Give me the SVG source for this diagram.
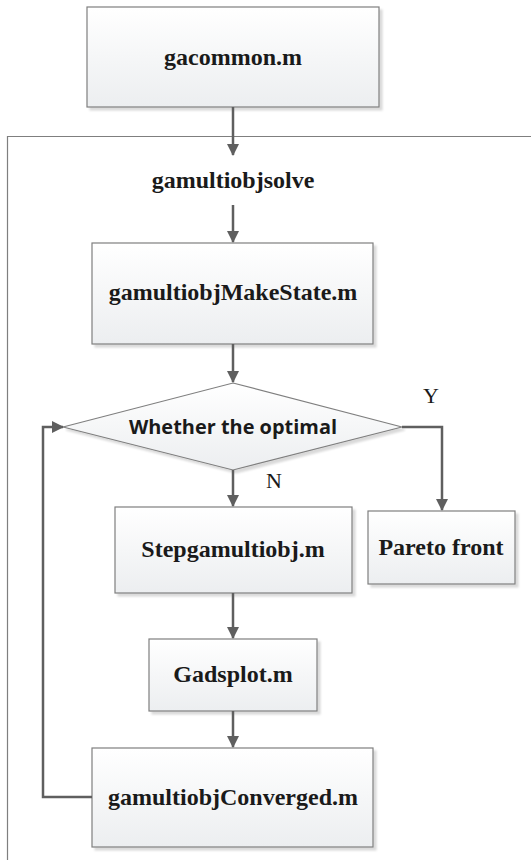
<svg xmlns="http://www.w3.org/2000/svg" width="531" height="860" viewBox="0 0 531 860">
<defs>
<linearGradient id="g" x1="0" y1="0" x2="0" y2="1">
<stop offset="0" stop-color="#ffffff"/>
<stop offset="1" stop-color="#eceef0"/>
</linearGradient>
<marker id="ah" markerWidth="12" markerHeight="12" refX="11" refY="6" orient="auto" markerUnits="userSpaceOnUse">
<path d="M0,0 L12,6 L0,12 z" fill="#5f5f5f"/>
</marker>
<filter id="sh" x="-5%" y="-5%" width="115%" height="120%">
<feOffset dx="3" dy="3" in="SourceAlpha" result="o"/>
<feGaussianBlur in="o" stdDeviation="1" result="b"/>
<feComponentTransfer in="b" result="c"><feFuncA type="linear" slope="0.15"/></feComponentTransfer>
<feMerge><feMergeNode in="c"/><feMergeNode in="SourceGraphic"/></feMerge>
</filter>
</defs>
<style>
.box{fill:url(#g);stroke:#7f7f7f;stroke-width:1.2;filter:url(#sh)}
.t{font-weight:700;font-size:24px;fill:#1a1a1a;text-anchor:middle}
.lbl{font-size:22px;fill:#1a1a1a;text-anchor:middle}
.c{fill:none;stroke:#5f5f5f;stroke-width:2.5;marker-end:url(#ah)}
.frame{fill:none;stroke:#7f7f7f;stroke-width:1.2}
</style>
<rect width="531" height="860" fill="#ffffff"/>
<path class="frame" d="M540,136.5 H7.5 V870"/>
<g id="gacommon">
<rect class="box" x="87" y="7" width="292" height="100"/>
<text class="t" x="233" y="65" font-family="Liberation Serif, Times New Roman, serif">gacommon.m</text>
</g>
<g id="gamultiobjsolve">
<text class="t" x="233" y="188" font-family="Liberation Serif, Times New Roman, serif">gamultiobjsolve</text>
</g>
<g id="makestate">
<rect class="box" x="92" y="243" width="281" height="101"/>
<text class="t" x="233" y="300" font-family="Liberation Serif, Times New Roman, serif">gamultiobjMakeState.m</text>
</g>
<g id="decision">
<polygon class="box" points="233,383 402,427 233,470 63,427"/>
<text x="233" y="434" text-anchor="middle" font-family="Open Sans, Liberation Sans, sans-serif" font-weight="700" font-size="20" fill="#1a1a1a" textLength="208" lengthAdjust="spacingAndGlyphs">Whether the optimal</text>
</g>
<g id="step">
<rect class="box" x="115" y="507" width="237" height="86"/>
<text class="t" x="233" y="557" font-family="Liberation Serif, Times New Roman, serif">Stepgamultiobj.m</text>
</g>
<g id="pareto">
<rect class="box" x="368" y="511" width="147" height="73"/>
<text class="t" x="441" y="555" font-family="Liberation Serif, Times New Roman, serif">Pareto front</text>
</g>
<g id="gadsplot">
<rect class="box" x="149" y="639" width="168" height="72"/>
<text class="t" x="233" y="682" font-family="Liberation Serif, Times New Roman, serif">Gadsplot.m</text>
</g>
<g id="converged">
<rect class="box" x="92" y="748" width="281" height="99"/>
<text class="t" x="233" y="805" font-family="Liberation Serif, Times New Roman, serif">gamultiobjConverged.m</text>
</g>
<g id="connectors">
<path class="c" d="M233,107 V155"/>
<path class="c" d="M233,205 V242"/>
<path class="c" d="M233,344 V382"/>
<path class="c" d="M402,427 H442 V510"/>
<path class="c" d="M233,470 V506"/>
<path class="c" d="M233,593 V638"/>
<path class="c" d="M233,711 V747"/>
<path class="c" d="M92,797 H43 V427 H63"/>
<text class="lbl" x="431" y="403" font-family="Liberation Serif, Times New Roman, serif">Y</text>
<text class="lbl" x="274" y="488" font-family="Liberation Serif, Times New Roman, serif">N</text>
</g>
</svg>
